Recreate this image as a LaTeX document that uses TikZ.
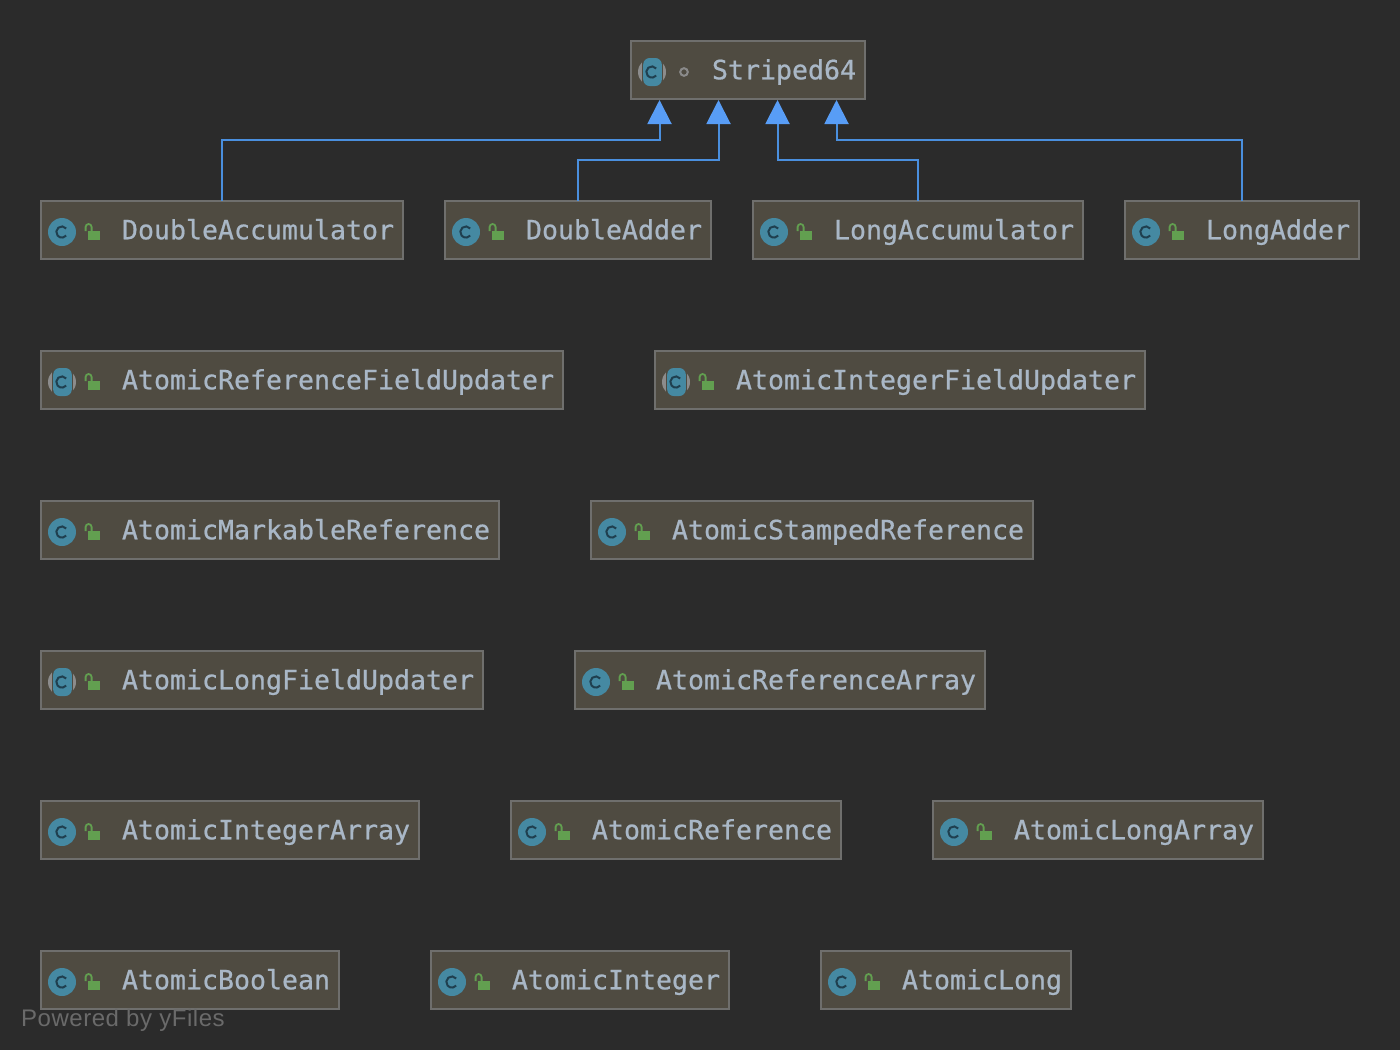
\documentclass[tikz,border=0pt]{standalone}
\usepackage{fontspec}
\usetikzlibrary{arrows.meta}
\newfontfamily\umlmono[RawFeature={embolden=0.7}]{DejaVu Sans Mono}
\newfontfamily\umlsans[LetterSpace=2.2]{Liberation Sans}
\definecolor{pagebg}{HTML}{2B2B2B}
\definecolor{boxfill}{HTML}{4F4B41}
\definecolor{boxedge}{HTML}{6F6F6D}
\definecolor{labeltxt}{HTML}{A9B7C6}
\definecolor{edgeblue}{HTML}{4A8FDE}
\definecolor{headblue}{HTML}{589DF6}
\definecolor{iconblue}{HTML}{4589A2}
\definecolor{icongray}{HTML}{8C8C8C}
\definecolor{icondark}{HTML}{1F3F4F}
\definecolor{lockgreen}{HTML}{629F50}
\definecolor{markgray}{HTML}{8A8A8A}
\definecolor{yfilesgray}{HTML}{6A6A6A}
\tikzset{
  x=1pt,y=1pt,
  umlbox/.style={draw=boxedge,fill=boxfill,line width=2pt,inner sep=0pt,outer sep=0pt,anchor=north west,minimum height=58pt},
  umllabel/.style={anchor=base west,inner sep=0pt,outer sep=0pt,text=labeltxt,font=\umlmono\fontsize{26.58}{30}\selectfont},
  inherit/.style={draw=edgeblue,line width=2pt,-{Triangle[width=24pt,length=24pt,color=headblue]}},
  cglyph/.style={draw=icondark,line width=2pt},
}
% plain class icon, centred on the current origin
\newcommand{\classicon}{%
  \fill[iconblue] (0,0) circle[radius=14];
  \draw[cglyph] (4.2,3.6) arc[start angle=40,end angle=320,radius=5.6];
}
% abstract class icon
\newcommand{\abstracticon}{%
  \fill[icongray] (0,0) circle[radius=14];
  \fill[boxfill] (-10,-15) rectangle (11,15);
  \fill[iconblue,rounded corners=6.5pt] (-8.8,-14) rectangle (9.8,14);
  \draw[cglyph] (4.2,3.6) arc[start angle=40,end angle=320,radius=5.6];
}
\newcommand{\lockicon}{%
  \fill[lockgreen] (46.5,-30) rectangle (58.5,-39);
  \draw[lockgreen,line width=1.8pt] (44.6,-30) -- (44.6,-26) arc[start angle=180,end angle=0,radius=3] -- (50.6,-30);
}
% name, left, right, top, label, icon
\newcommand{\umlclass}[6]{%
  \begin{scope}[shift={(#2,-#4)}]
    \pgfmathsetlengthmacro{\boxw}{#3-#2}
    \node[umlbox,minimum width=\boxw] (#1) at (0,0) {};
    \node[umllabel] (#1-label) at (81,-38.3) {#5};
    \begin{scope}[shift={(21,-31)}]#6\end{scope}
    \lockicon
  \end{scope}%
}
\begin{document}
\begin{tikzpicture}
\useasboundingbox (0,0) rectangle (1400,-1050);
\fill[pagebg] (0,0) rectangle (1400,-1050);

% top class
\begin{scope}[shift={(631,-41)}]
  \node[umlbox,minimum width=234pt] (S) at (0,0) {};
  \node[umllabel] (S-label) at (81,-38.3) {Striped64};
  \begin{scope}[shift={(21,-31)}]\abstracticon\end{scope}
  \draw[markgray,line width=2pt] (53,-31) circle[radius=3.8];
\end{scope}

\umlclass{DAcc}{41}{403}{201}{DoubleAccumulator}{\classicon}
\umlclass{DAdd}{445}{711}{201}{DoubleAdder}{\classicon}
\umlclass{LAcc}{753}{1083}{201}{LongAccumulator}{\classicon}
\umlclass{LAdd}{1125}{1359}{201}{LongAdder}{\classicon}

\umlclass{ARFU}{41}{563}{351}{AtomicReferenceFieldUpdater}{\abstracticon}
\umlclass{AIFU}{655}{1145}{351}{AtomicIntegerFieldUpdater}{\abstracticon}

\umlclass{AMR}{41}{499}{501}{AtomicMarkableReference}{\classicon}
\umlclass{ASR}{591}{1033}{501}{AtomicStampedReference}{\classicon}

\umlclass{ALFU}{41}{483}{651}{AtomicLongFieldUpdater}{\abstracticon}
\umlclass{ARA}{575}{985}{651}{AtomicReferenceArray}{\classicon}

\umlclass{AIA}{41}{419}{801}{AtomicIntegerArray}{\classicon}
\umlclass{AR}{511}{841}{801}{AtomicReference}{\classicon}
\umlclass{ALA}{933}{1263}{801}{AtomicLongArray}{\classicon}

\umlclass{AB}{41}{339}{951}{AtomicBoolean}{\classicon}
\umlclass{AI}{431}{729}{951}{AtomicInteger}{\classicon}
\umlclass{AL}{821}{1071}{951}{AtomicLong}{\classicon}

% arrow ends on the bottom of Striped64
\coordinate (t1) at (659.5,-100);
\coordinate (t2) at (718.5,-100);
\coordinate (t3) at (777.5,-100);
\coordinate (t4) at (836.5,-100);
\coordinate (b1) at (659.5,-140.4);
\coordinate (b2) at (718.5,-160.4);
\coordinate (b3) at (777.5,-160.4);
\coordinate (b4) at (836.5,-140.4);

\draw[inherit] (DAcc.north) |- (b1) -- (t1);
\draw[inherit] (DAdd.north) |- (b2) -- (t2);
\draw[inherit] (LAcc.north) |- (b3) -- (t3);
\draw[inherit] (LAdd.north) |- (b4) -- (t4);

\node[anchor=base west,inner sep=0pt,text=yfilesgray,font=\umlsans\fontsize{24}{28}\selectfont] (yf) at (21,-1026) {Powered by yFiles};
\end{tikzpicture}
\end{document}
